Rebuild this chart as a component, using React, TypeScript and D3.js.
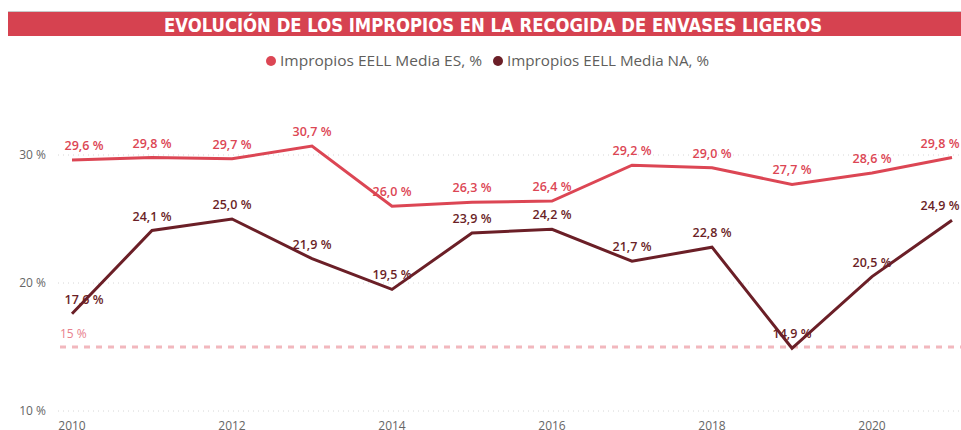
import { useEffect, useRef } from 'react';
import * as d3 from 'd3';

const years = [2010, 2011, 2012, 2013, 2014, 2015, 2016, 2017, 2018, 2019, 2020, 2021];
const mediaES = [29.6, 29.8, 29.7, 30.7, 26.0, 26.3, 26.4, 29.2, 29.0, 27.7, 28.6, 29.8];
const mediaNA = [17.6, 24.1, 25.0, 21.9, 19.5, 23.9, 24.2, 21.7, 22.8, 14.9, 20.5, 24.9];
const yTicks = [10, 20, 30];
const xTicks = [2010, 2012, 2014, 2016, 2018, 2020];
const target = 15;
const seriesNames = ['Impropios EELL Media ES, %', 'Impropios EELL Media NA, %'];

const W = 961;
const H = 430;
const RED = '#dc4654';
const DARK = '#6b1f27';
const fmt = (v: number) => v.toFixed(1).replace('.', ',') + ' %';

export default function App() {
  const svgRef = useRef<SVGSVGElement>(null);

  useEffect(() => {
    if (!svgRef.current) return;
    document.body.style.margin = '0';
    const svg = d3.select(svgRef.current);
    svg.selectAll('*').remove();

    const x = d3.scaleLinear().domain([2010, 2021]).range([72, 952]);
    const y = d3.scaleLinear().domain([10, 35]).range([411, 91]);
    const font = "'Open Sans', sans-serif";

    // Title bar
    svg.append('rect').attr('x', 8).attr('y', 11).attr('width', W - 8).attr('height', 2).attr('fill', '#c8c8c8');
    svg.append('rect').attr('x', 8).attr('y', 12).attr('width', W - 8).attr('height', 24).attr('fill', '#d64250');
    svg
      .append('text')
      .attr('x', 493)
      .attr('y', 31.5)
      .attr('text-anchor', 'middle')
      .attr('textLength', 658)
      .attr('lengthAdjust', 'spacingAndGlyphs')
      .style('font-family', "'DejaVu Sans Condensed', sans-serif")
      .style('font-weight', 'bold')
      .style('font-size', '19px')
      .style('fill', '#fff')
      .text('EVOLUCIÓN DE LOS IMPROPIOS EN LA RECOGIDA DE ENVASES LIGEROS');

    // Legend
    const legend = [
      { name: seriesNames[0], color: RED, x: 271 },
      { name: seriesNames[1], color: DARK, x: 498 },
    ];
    legend.forEach((l) => {
      svg.append('circle').attr('cx', l.x).attr('cy', 61).attr('r', 5).attr('fill', l.color);
      svg
        .append('text')
        .attr('x', l.x + 9)
        .attr('y', 66)
        .attr('textLength', 202)
        .attr('lengthAdjust', 'spacingAndGlyphs')
        .style('font-family', font)
        .style('font-size', '15px')
        .style('fill', '#605e5c')
        .text(l.name);
    });

    // Gridlines + y ticks
    yTicks.forEach((t) => {
      svg
        .append('line')
        .attr('x1', 58)
        .attr('x2', W)
        .attr('y1', y(t))
        .attr('y2', y(t))
        .attr('stroke', '#d6d6d6')
        .attr('stroke-width', 1)
        .attr('stroke-dasharray', '1,4');
      svg
        .append('text')
        .attr('x', 46)
        .attr('y', y(t) + 4)
        .attr('text-anchor', 'end')
        .style('font-family', font)
        .style('font-size', '12px')
        .style('fill', '#666')
        .text(`${t} %`);
    });

    // x ticks
    xTicks.forEach((t) => {
      svg
        .append('text')
        .attr('x', x(t))
        .attr('y', 430)
        .attr('text-anchor', 'middle')
        .style('font-family', font)
        .style('font-size', '12px')
        .style('fill', '#666')
        .text(t);
    });

    // Target line
    svg
      .append('line')
      .attr('x1', 60)
      .attr('x2', W)
      .attr('y1', y(target))
      .attr('y2', y(target))
      .attr('stroke', '#f2b8be')
      .attr('stroke-width', 3)
      .attr('stroke-dasharray', '6,6');
    svg
      .append('text')
      .attr('x', 60)
      .attr('y', y(target) - 9)
      .style('font-family', font)
      .style('font-size', '12px')
      .style('fill', '#e8808c')
      .text(`${target} %`);

    const line = d3
      .line<number>()
      .x((_, i) => x(years[i]))
      .y((d) => y(d));

    const series = [
      { values: mediaES, color: RED, off: 10 },
      { values: mediaNA, color: DARK, off: 10 },
    ];

    series.forEach((s) => {
      svg
        .append('path')
        .datum(s.values)
        .attr('d', line)
        .attr('fill', 'none')
        .attr('stroke', s.color)
        .attr('stroke-width', 3)
        .attr('stroke-linejoin', 'miter');
    });

    series.forEach((s) => {
      svg
        .selectAll(null)
        .data(s.values)
        .enter()
        .append('text')
        .attr('x', (_, i) => Math.max(63 + 21, Math.min(W - 21, x(years[i]))))
        .attr('y', (d) => y(d) - s.off)
        .attr('text-anchor', 'middle')
        .style('font-family', font)
        .style('font-weight', '600')
        .style('font-size', '12.5px')
        .style('fill', s.color)
        .text((d) => fmt(d));
    });
  }, []);

  return (
    <div style={{ position: 'absolute', left: 0, top: 0 }}>
      <svg ref={svgRef} width={W} height={H} style={{ display: 'block' }} />
    </div>
  );
}
